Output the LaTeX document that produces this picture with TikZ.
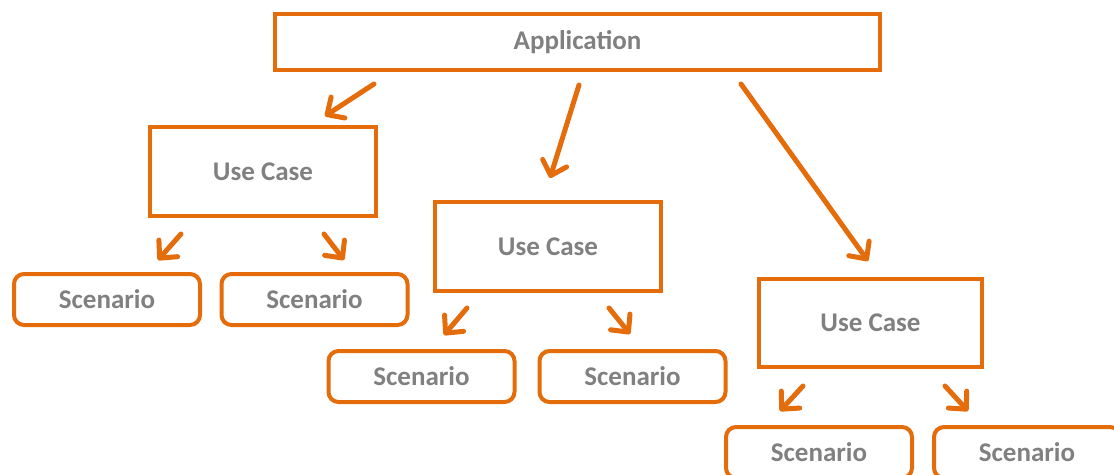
\documentclass[tikz,border=0pt]{standalone}
\usepackage{fontspec}
\setmainfont{Carlito}
\usetikzlibrary{arrows.meta}
\definecolor{boxorange}{RGB}{228,108,10}
\definecolor{labelgray}{RGB}{128,128,128}

\begin{document}
\begin{tikzpicture}[x = 1pt, y = -1pt,
  box/.style = {draw = boxorange, line width = 4pt, fill = white, text = labelgray,
    font = \bfseries\fontsize{27}{30}\selectfont, inner sep = 0pt},
  usecase/.style = {box, minimum width = 226pt, minimum height = 89pt},
  scen/.style = {box, rounded corners = 10pt, minimum width = 186pt, minimum height = 51pt},
  arr/.style = {draw = boxorange, line width = 5pt, line cap = round,
    -{Straight Barb[length = 13pt, width = 25pt, round]}}]
\clip (0,0) rectangle (1114,474);

\node[box, minimum width = 605pt, minimum height = 56pt] (app) at (577.5,42) {Application};

\node[usecase] (uc1) at (263,171.5) {Use Case};
\node[usecase] (uc2) at (548,246.5) {Use Case};
\node[usecase, minimum width = 223pt, minimum height = 88pt] (uc3) at (870.5,323) {Use Case};

\node[scen] (sc1) at (107,299.5) {Scenario};
\node[scen] (sc2) at (314.5,299.5) {Scenario};
\node[scen] (sc3) at (421.5,376.5) {Scenario};
\node[scen] (sc4) at (632.5,376.5) {Scenario};
\node[scen] (sc5) at (819,452.5) {Scenario};
\node[scen] (sc6) at (1027,452.5) {Scenario};

% application to use cases
\draw[arr] ([shift = {(101,12)}]app.south west) -- ([shift = {(177,-9)}]uc1.north west);
\draw[arr] ([shift = {(1.5,13)}]app.south) -- ([shift = {(2,-22)}]uc2.north);
\draw[arr] ([shift = {(-141,12)}]app.south east) -- ([shift = {(-2.5,-16)}]uc3.north);

% use cases to scenarios
\draw[arr] ([shift = {(33,16)}]uc1.south west) -- ([shift = {(51,-12)}]sc1.north);
\draw[arr] ([shift = {(-54,16)}]uc1.south east) -- ([shift = {(29.5,-12)}]sc2.north);
\draw[arr] ([shift = {(34,15)}]uc2.south west) -- ([shift = {(22.5,-14)}]sc3.north);
\draw[arr] ([shift = {(-54,15)}]uc2.south east) -- ([shift = {(-2.5,-15)}]sc4.north);
\draw[arr] ([shift = {(46,17)}]uc3.south west) -- ([shift = {(-39,-14)}]sc5.north);
\draw[arr] ([shift = {(-39,17)}]uc3.south east) -- ([shift = {(-59,-14)}]sc6.north);
\end{tikzpicture}
\end{document}
